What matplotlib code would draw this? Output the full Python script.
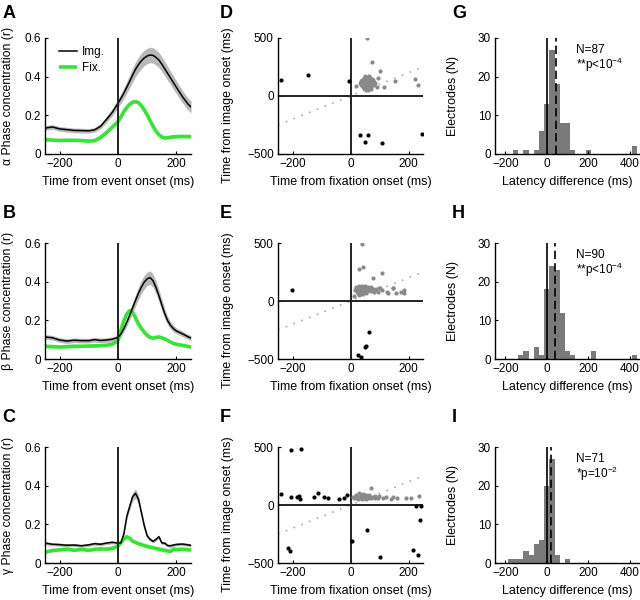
import numpy as np
import matplotlib
matplotlib.use("Agg")
import matplotlib.pyplot as plt

plt.rcParams['font.family'] = ['Liberation Sans', 'DejaVu Sans']
plt.rcParams['mathtext.fontset'] = 'custom'
plt.rcParams['mathtext.rm'] = 'Liberation Sans'
plt.rcParams['mathtext.it'] = 'Liberation Sans:italic'

# ---- time courses (ms) ----
T = [-250, -225, -200, -175, -150, -125, -100, -80, -60, -40, -20, 0, 10, 20, 30, 40, 50, 60,
     70, 80, 90, 100, 110, 120, 130, 140, 150, 160, 170, 180, 190, 200, 220, 240, 250]

A_IMG = [0.134, 0.140, 0.130, 0.126, 0.122, 0.121, 0.120, 0.125, 0.143, 0.178, 0.215, 0.262, 0.288,
         0.315, 0.345, 0.376, 0.408, 0.438, 0.462, 0.482, 0.497, 0.507, 0.512, 0.510, 0.500, 0.486,
         0.465, 0.441, 0.417, 0.393, 0.369, 0.345, 0.298, 0.258, 0.243]
A_IMG_SEM = [0.012, 0.012, 0.012, 0.012, 0.012, 0.012, 0.012, 0.012, 0.013, 0.015, 0.018, 0.022, 0.025,
             0.028, 0.031, 0.034, 0.036, 0.038, 0.039, 0.040, 0.040, 0.040, 0.040, 0.040, 0.040, 0.039,
             0.038, 0.037, 0.036, 0.035, 0.034, 0.033, 0.032, 0.031, 0.030]
A_FIX = [0.074, 0.072, 0.070, 0.071, 0.071, 0.070, 0.067, 0.069, 0.085, 0.110, 0.138, 0.168, 0.192,
         0.218, 0.240, 0.257, 0.268, 0.271, 0.266, 0.250, 0.228, 0.202, 0.172, 0.143, 0.118, 0.100,
         0.088, 0.083, 0.084, 0.087, 0.089, 0.090, 0.091, 0.090, 0.090]

B_IMG = [0.114, 0.110, 0.098, 0.093, 0.097, 0.095, 0.095, 0.100, 0.096, 0.098, 0.102, 0.112, 0.130,
         0.157, 0.190, 0.226, 0.265, 0.303, 0.340, 0.372, 0.398, 0.415, 0.421, 0.405, 0.370, 0.328,
         0.280, 0.235, 0.198, 0.174, 0.157, 0.145, 0.131, 0.115, 0.108]
B_IMG_SEM = [0.012, 0.012, 0.012, 0.012, 0.012, 0.012, 0.012, 0.012, 0.012, 0.012, 0.012, 0.013, 0.015,
             0.018, 0.021, 0.024, 0.027, 0.030, 0.032, 0.034, 0.035, 0.035, 0.035, 0.034, 0.033, 0.031,
             0.029, 0.026, 0.022, 0.019, 0.017, 0.015, 0.014, 0.013, 0.013]
B_FIX = [0.066, 0.064, 0.062, 0.064, 0.066, 0.066, 0.067, 0.068, 0.069, 0.071, 0.076, 0.095, 0.150,
         0.198, 0.232, 0.250, 0.243, 0.212, 0.182, 0.158, 0.138, 0.122, 0.112, 0.108, 0.112, 0.114,
         0.110, 0.104, 0.096, 0.088, 0.081, 0.076, 0.071, 0.065, 0.062]

C_IMG = [0.103, 0.097, 0.095, 0.092, 0.093, 0.089, 0.094, 0.100, 0.097, 0.103, 0.107, 0.103, 0.104,
         0.150, 0.240, 0.293, 0.343, 0.360, 0.330, 0.262, 0.192, 0.140, 0.122, 0.112, 0.122, 0.136,
         0.104, 0.103, 0.090, 0.089, 0.093, 0.096, 0.098, 0.094, 0.091]
C_IMG_SEM = [0.008, 0.008, 0.008, 0.008, 0.008, 0.008, 0.008, 0.008, 0.008, 0.008, 0.008, 0.008, 0.009,
             0.012, 0.016, 0.020, 0.022, 0.024, 0.022, 0.018, 0.014, 0.011, 0.010, 0.009, 0.009, 0.009,
             0.008, 0.008, 0.008, 0.008, 0.008, 0.008, 0.008, 0.008, 0.008]
C_FIX = [0.055, 0.065, 0.068, 0.072, 0.066, 0.070, 0.066, 0.071, 0.073, 0.072, 0.076, 0.086, 0.106,
         0.124, 0.136, 0.128, 0.113, 0.107, 0.100, 0.095, 0.090, 0.086, 0.082, 0.079, 0.075, 0.072,
         0.069, 0.066, 0.062, 0.060, 0.072, 0.069, 0.072, 0.068, 0.069]

BAND_LABELS = ["\u03b1", "\u03b2", "\u03b3"]

# ---- latency scatter (x: fixation, y: image) ----
D_GRAY_X = [57, 75, 100, 94, 117, 154, 223, 232, 20, 35,
            50, 58, 65, 45, 52, 60, 68, 74, 40, 48, 55, 62, 70, 78,
            35, 43, 50, 57, 64, 71, 80, 32, 40, 47, 54, 61, 68, 75, 85,
            38, 45, 52, 59, 66, 73, 82, 42, 50, 57, 64, 71, 90, 48, 56, 63, 70, 55, 62]
D_GRAY_Y = [500, 290, 218, 152, 80, 129, 144, 95, 89, 95,
            172, 168, 174, 156, 152, 158, 154, 150, 141, 138, 143, 139, 136, 142,
            126, 124, 128, 122, 127, 123, 125, 111, 108, 112, 109, 113, 107, 110, 112,
            96, 94, 98, 92, 97, 93, 95, 81, 79, 83, 78, 82, 80, 66, 64, 68, 63, 51, 49]
D_BLACK_X = [-238, -146, -6, 34, 50, 59, 107, 248]
D_BLACK_Y = [138, 178, 132, -336, -400, -336, -402, -328]

E_GRAY_X = [40, 29, 42, 108, 79, 102, 125, 146, 157, 183, 183, 147, 174, 128, 97, 11, 110, 95,
            30, 40, 50, 20, 28, 36, 44, 52, 60, 70, 18, 26, 34, 42, 50, 58, 66, 76, 88,
            16, 24, 32, 40, 48, 56, 64, 72, 84, 22, 30, 38, 46, 54, 62, 80, 26, 36, 44, 52, 30, 40]
E_GRAY_Y = [494, 276, 291, 238, 194, 116, 81, 116, 72, 93, 67, 110, 81, 67, 110, 43, 95, 75,
            130, 132, 128, 118, 120, 116, 119, 117, 121, 118, 105, 107, 103, 106, 104, 108, 105, 103, 106,
            92, 94, 90, 93, 91, 95, 92, 90, 93, 80, 82, 78, 81, 79, 83, 80, 68, 66, 70, 67, 55, 57]
E_BLACK_X = [-203, 65, 50, 54, 25, 37]
E_BLACK_Y = [99, -270, -398, -392, -465, -485]

F_GRAY_X = [71, 86, 99, 111, 122, 139, 145, 162, 191, 208, 237,
            30, 42, 20, 35, 45, 55, 65, 10, 18, 26, 34, 42, 50, 58, 68, 78,
            12, 20, 28, 36, 44, 52, 60, 70, 85, 95, 25, 40, 55]
F_GRAY_Y = [147, 75, 80, 60, 69, 55, 69, 57, 60, 57, 75,
            100, 98, 85, 87, 84, 86, 83, 72, 74, 71, 73, 70, 74, 72, 71, 73,
            60, 62, 59, 61, 60, 58, 62, 60, 61, 59, 50, 49, 51]
F_BLACK_X = [-206, -169, -238, -206, -184, -178, -174, -127, -111, -93, -78, -40, -24, -11,
             -215, -209, 6, 57, 102, 216, 234, 225, 243, 240]
F_BLACK_Y = [477, 486, 98, 69, 69, 75, 55, 69, 103, 66, 57, 55, 57, 83,
             -371, -394, -307, -213, -451, -391, -428, -11, -11, -132]

# ---- latency difference histograms (bin centres, counts) ----
BIN_CENTERS = [-175, -150, -125, -100, -75, -50, -25, 0, 25, 50, 75, 100, 125, 150, 175,
               200, 225, 250, 275, 300, 325, 350, 375, 400, 425]
G_COUNTS = [0, 1, 0, 1, 0, 1, 6, 13, 27, 18, 8, 8, 1, 0, 0, 1, 0, 0, 0, 0, 0, 0, 0, 0, 2]
H_COUNTS = [0, 0, 1, 2, 0, 3, 1, 18, 24, 23, 12, 2, 1, 0, 0, 0, 2, 0, 0, 0, 0, 0, 0, 0, 1]
I_COUNTS = [1, 1, 1, 3, 2, 5, 6, 20, 27, 2, 0, 1, 0, 0, 0, 0, 0, 0, 0, 0, 0, 0, 0, 0, 0]
MEDIANS = [44, 40, 21]
STATS = [("N=87", r"**p<10$^{-4}$"), ("N=90", r"**p<10$^{-4}$"), ("N=71", r"*p=10$^{-2}$")]

GREEN = '#33e633'
FS = 8.5

fig = plt.figure(figsize=(6.4, 6.0), dpi=100)

col_left = [45 / 640, 278 / 640, 495 / 640]
col_w = [146 / 640, 145 / 640, 145 / 640]
row_bottom = [1 - 154 / 600, 1 - 359 / 600, 1 - 563 / 600]
row_h = 116 / 600
letter_y = [1 - 14 / 600, 1 - 214 / 600, 1 - 418 / 600]


def style(ax):
    for s in ['top', 'right']:
        ax.spines[s].set_visible(False)
    for s in ['left', 'bottom']:
        ax.spines[s].set_linewidth(1.0)
    ax.tick_params(direction='in', length=2, labelsize=FS, pad=3)


line_data = [(A_IMG, A_IMG_SEM, A_FIX), (B_IMG, B_IMG_SEM, B_FIX), (C_IMG, C_IMG_SEM, C_FIX)]
scatter_data = [(D_GRAY_X, D_GRAY_Y, D_BLACK_X, D_BLACK_Y),
                (E_GRAY_X, E_GRAY_Y, E_BLACK_X, E_BLACK_Y),
                (F_GRAY_X, F_GRAY_Y, F_BLACK_X, F_BLACK_Y)]
hist_data = [G_COUNTS, H_COUNTS, I_COUNTS]
letters = [["A", "D", "G"], ["B", "E", "H"], ["C", "F", "I"]]

t = np.array(T)
for r in range(3):
    # time-course panel
    img, sem, fix = [np.array(v) for v in line_data[r]]
    ax = fig.add_axes([col_left[0], row_bottom[r], col_w[0], row_h])
    style(ax)
    ax.fill_between(t, img - sem, img + sem, color='#b8b8b8', lw=0)
    ax.fill_between(t, fix - 0.007, fix + 0.007, color='#b0f0b0', lw=0)
    ax.plot(t, fix, color=GREEN, lw=2.6, label="Fix.", solid_capstyle='butt')
    ax.plot(t, img, color='black', lw=1.1, label="Img.")
    ax.axvline(0, color='#222222', lw=1.4)
    ax.set_xlim(-250, 250)
    ax.set_ylim(0, 0.6)
    ax.set_xticks([-200, 0, 200])
    ax.set_yticks([0, 0.2, 0.4, 0.6])
    ax.set_yticklabels(["0", "0.2", "0.4", "0.6"])
    ax.set_xlabel("Time from event onset (ms)", fontsize=FS + 0.5)
    ax.set_ylabel(BAND_LABELS[r] + " Phase concentration (r)", fontsize=FS + 0.3)
    ax.yaxis.set_label_coords(-0.215, 0.5)
    if r == 0:
        h, l = ax.get_legend_handles_labels()
        ax.legend(h[::-1], l[::-1], loc='upper left', frameon=False, fontsize=FS,
                  handlelength=1.6, handletextpad=0.4, labelspacing=0.3,
                  bbox_to_anchor=(0.02, 1.02))
    fig.text(0.004, letter_y[r], letters[r][0], fontsize=13,
             fontweight='bold', va='center', ha='left')

    # scatter panel
    gx, gy, bx, by = scatter_data[r]
    ax = fig.add_axes([col_left[1], row_bottom[r], col_w[1], row_h])
    style(ax)
    ax.plot([-250, 250], [-250, 250], color='#aaaaaa', lw=1.2, ls=(0, (1, 4)))
    ax.axvline(0, color='#222222', lw=1.4)
    ax.axhline(0, color='#222222', lw=1.4)
    ax.scatter(gx, gy, s=9, color='#8a8a8a', lw=0, zorder=3)
    ax.scatter(bx, by, s=9, color='black', lw=0, zorder=3)
    ax.set_xlim(-250, 250)
    ax.set_ylim(-500, 500)
    ax.set_xticks([-200, 0, 200])
    ax.set_yticks([-500, 0, 500])
    ax.set_xlabel("Time from fixation onset (ms)", fontsize=FS + 0.5)
    ax.set_ylabel("Time from image onset (ms)", fontsize=FS + 0.5)
    ax.yaxis.set_label_coords(-0.30, 0.42)
    fig.text(220 / 640, letter_y[r], letters[r][1], fontsize=13,
             fontweight='bold', va='center', ha='left')

    # histogram panel
    ax = fig.add_axes([col_left[2], row_bottom[r], col_w[2], row_h])
    style(ax)
    ax.bar(BIN_CENTERS, hist_data[r], width=25, color='#7a7a7a', lw=0)
    ax.axvline(0, color='black', lw=1.2)
    ax.axvline(MEDIANS[r], color='black', lw=1.2, ls=(0, (5, 2.5)))
    ax.set_xlim(-250, 450)
    ax.set_ylim(0, 30)
    ax.set_xticks([-200, 0, 200, 400])
    ax.set_yticks([0, 10, 20, 30])
    ax.set_xlabel("Latency difference (ms)", fontsize=FS + 0.5)
    ax.set_ylabel("Electrodes (N)", fontsize=FS + 0.5)
    ax.yaxis.set_label_coords(-0.25, 0.5)
    ax.text(0.56, 0.90, STATS[r][0], transform=ax.transAxes, fontsize=FS, va='center')
    ax.text(0.56, 0.765, STATS[r][1], transform=ax.transAxes, fontsize=FS, va='center')
    fig.text(452 / 640, letter_y[r], letters[r][2], fontsize=13,
             fontweight='bold', va='center', ha='left')

fig.savefig("out.png", dpi=100)
